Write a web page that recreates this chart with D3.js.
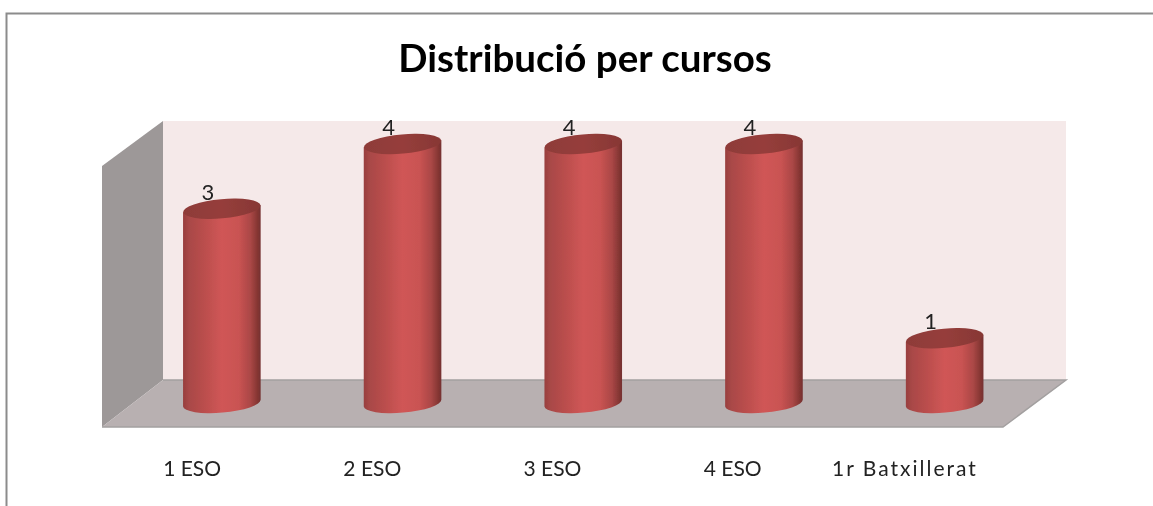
<!DOCTYPE html>
<html><head><meta charset="utf-8">
<script src="https://cdn.jsdelivr.net/npm/d3@7"></script>
<style>html,body{margin:0;padding:0;background:#fff;overflow:hidden}svg{display:block}</style>
</head><body><svg id="c" width="1153" height="506"></svg>
<script>
const categories = ["1 ESO","2 ESO","3 ESO","4 ESO","1r Batxillerat"];
const values = [3,4,4,4,1];
const chartTitle = "Distribució per cursos";

const svg = d3.select("#c");
const font = "Lato,'Open Sans',sans-serif";
const defs = svg.append("defs");
const blur = defs.append("filter").attr("id","soft").attr("x","-5%").attr("y","-5%").attr("width","110%").attr("height","110%");
blur.append("feGaussianBlur").attr("stdDeviation",0.6);

const g0 = defs.append("linearGradient").attr("id","body").attr("x1",0).attr("x2",1).attr("y1",0).attr("y2",0);
[[0,"#983f3e"],[0.08,"#a94847"],[0.3,"#bd4f4e"],[0.5,"#d05656"],[0.72,"#c95352"],[0.87,"#aa4746"],[0.96,"#853633"],[1,"#743030"]]
  .forEach(([o,c])=>g0.append("stop").attr("offset",o).attr("stop-color",c));
const g1 = defs.append("linearGradient").attr("id","top").attr("x1",0).attr("x2",1).attr("y1",0).attr("y2",0);
[[0,"#8e3b39"],[0.5,"#963e3b"],[1,"#873735"]]
  .forEach(([o,c])=>g1.append("stop").attr("offset",o).attr("stop-color",c));

const root = svg.append("g").attr("filter","url(#soft)");

// outer frame
root.append("path").attr("d","M6.5 506V13.5H1153").attr("fill","none").attr("stroke","#8c8c8c").attr("stroke-width",2);

// scales
const depth = {dx:61, dy:46};
const y = d3.scaleLinear().domain([0,4]).range([403,144]);
const x = d3.scaleBand().domain(categories).range([131.5,1035]).paddingInner(0);
const xFront = d3.scaleBand().domain(categories).range([102,1003]);
const floorBack = 380, floorFront = 427, wallTop = 121;
const xl = 102, xbl = xl+depth.dx, xr = 1066, xfr = 1003;

// walls and floor
root.append("rect").attr("x",xbl).attr("y",wallTop).attr("width",xr-xbl).attr("height",floorBack-wallTop).attr("fill","#f5e9e9");
root.append("polygon").attr("points",[[xl,166],[xbl,wallTop],[xbl,floorBack],[xl,floorFront]].join(" ")).attr("fill","#9d9898");
root.append("polygon").attr("points",[[xl,floorFront],[xbl,floorBack],[xr,floorBack],[xfr,floorFront]].join(" ")).attr("fill","#b8b0b1");
root.append("path").attr("d",`M${xl} ${floorFront}H${xfr}L${xr} ${floorBack}H${xbl}`).attr("fill","none").attr("stroke","#a3a0a0").attr("stroke-width",1.5);

// cylinders
const rx = 38.8, ry = 9.6, tilt = -5, lift = rx*Math.sin(-tilt*Math.PI/180);
const cx = d => x(d)+x.bandwidth()/2;
const bars = root.selectAll("g.bar").data(categories.map((c,i)=>({c,v:values[i]}))).join("g").attr("class","bar");
bars.append("path")
  .attr("d",d=>{
    const L=cx(d.c)-rx, R=cx(d.c)+rx, t=y(d.v), b=y(0);
    return `M${L} ${t+lift}L${L} ${b+lift}A${rx} ${ry} ${tilt} 0 0 ${R} ${b-lift}L${R} ${t-lift}Z`;
  }).attr("fill","url(#body)");
bars.append("ellipse")
  .attr("cx",0).attr("cy",0).attr("rx",rx).attr("ry",ry)
  .attr("transform",d=>`translate(${cx(d.c)},${y(d.v)}) rotate(${tilt})`)
  .attr("fill","url(#top)");

// data labels
bars.append("text").text(d=>d.v)
  .attr("x",d=>cx(d.c)-14).attr("y",d=>y(d.v)-9)
  .attr("text-anchor","middle").attr("font-family",font).attr("font-size",22).attr("fill","#222");

// category labels
root.selectAll("text.cat").data(categories).join("text").attr("class","cat").text(d=>d)
  .attr("x",(d,i)=>xFront(d)+xFront.bandwidth()/2-(i===categories.length-1?8:0))
  .attr("y",476).attr("text-anchor","middle")
  .attr("font-family",font).attr("font-size",21).attr("letter-spacing",(d,i)=>i===categories.length-1?2:0).attr("fill","#222");

// title
root.append("text").text(chartTitle).attr("x",585).attr("y",72).attr("text-anchor","middle")
  .attr("font-family",font).attr("font-weight",700).attr("font-size",38.5).attr("fill","#000");
</script></body></html>
